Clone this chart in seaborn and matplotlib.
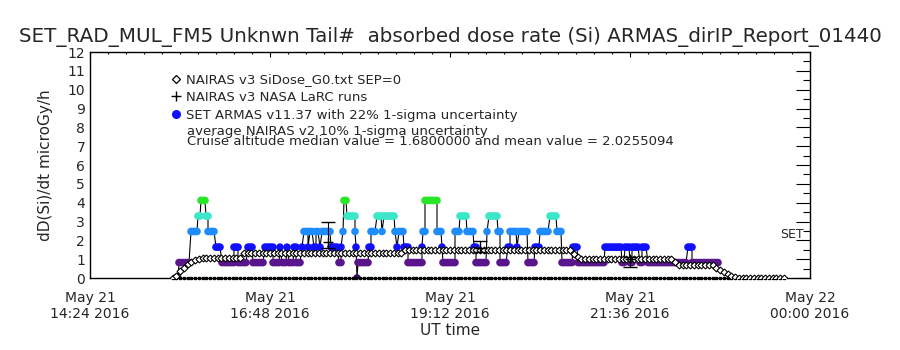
import numpy as np
import pandas as pd
import matplotlib
matplotlib.use("Agg")
import matplotlib.pyplot as plt
import seaborn as sns
from matplotlib.lines import Line2D
from matplotlib.ticker import MultipleLocator

# x axis is minutes after 2016-05-21 14:24 UT
tick_min = [0, 144, 288, 432, 576]
tick_labels = ["May 21\n14:24 2016", "May 21\n16:48 2016", "May 21\n19:12 2016",
               "May 21\n21:36 2016", "May 22\n00:00 2016"]

# NAIRAS v3 SiDose_G0 SEP=0, one value every 3 min from 66 min
nairas_t0 = 66
nairas_step = 3
nairas_dose = ([0.0, 0.12, 0.35, 0.55, 0.72, 0.85, 0.95, 1.0]
               + [1.06] * 11 + [1.33] * 43 + [1.5] * 45 + [1.3, 1.1]
               + [1.0] * 25 + [0.85] + [0.69] * 10
               + [0.55, 0.42, 0.3, 0.2, 0.1, 0.05] + [0.0] * 13)
floor_dose = [0.0] * len(nairas_dose)

# NAIRAS v3 NASA LaRC runs
larc_min = [190.4, 312, 432]
larc_dose = [1.9, 1.6, 1.0]
larc_err_lo = [0.3, 0.2, 0.4]
larc_err_hi = [1.1, 0.38, 0.1]

# SET ARMAS v11.37: runs of quantised dose levels
armas_level = {"Z": 0.0, "P": 0.82, "B": 1.64, "L": 2.47, "C": 3.29, "G": 4.12}
armas_run_start = [68.8, 71.2, 80.8, 86.4, 88.8, 92.8, 94.4, 100.8, 105.6, 115.2,
                   118.4, 126.4, 130.4, 140, 146.4, 152, 153.6, 157.6, 159.2, 163.2,
                   164.8, 169.6, 171.2, 174.4, 176, 179.2, 180.8, 184, 185.6, 192.8,
                   199.2, 200.8, 202.4, 203.2, 205.6, 212, 212.8, 213.6, 214.4, 223.2,
                   224.8, 229.6, 233.6, 235.2, 244, 245.6, 247.2, 251.2, 254.4, 265.6,
                   266.4, 268, 277.6, 281.6, 282.4, 292, 296, 301.6, 307.2, 308.8,
                   317.6, 319.2, 326.4, 328, 334.4, 336, 341.6, 343.2, 350.4, 356,
                   360, 368, 373.6, 377.6, 386.4, 390.4, 412, 425.6, 428, 432,
                   433.6, 440, 441.6, 446.4, 478.4, 481.6]
armas_run_end = 504
armas_run_code = ("ZPLCGCLBPB" "PBPBPBPBPB" "PBLBLBLBLB" "PBLGCLBZPB" "LCLCLBLBPB"
                  "LGLBPLCLBP" "LCLPBLBLPB" "LCLPBPBPBP" "BPBPBP")

palette = {"Z": "#3c0a64", "P": "#5a148c", "B": "#1010ff", "L": "#1e8cff",
           "C": "#3ce6c8", "G": "#28e628"}

rows = []
ends = armas_run_start[1:] + [armas_run_end]
for start, end, code in zip(armas_run_start, ends, armas_run_code):
    for t in np.arange(start, end, 1.6):
        rows.append((t, armas_level[code], code))
armas = pd.DataFrame(rows, columns=["t", "dose", "code"])

nairas_t = nairas_t0 + nairas_step * np.arange(len(nairas_dose))

sns.set_style("white")
plt.rcParams["font.family"] = ["DejaVu Sans"]

fig = plt.figure(figsize=(9, 3.5), dpi=100)
ax = fig.add_axes([0.1, 0.2057, 0.8, 0.6457])

ax.plot(armas["t"], armas["dose"], color="black", lw=0.8, zorder=2)
sns.scatterplot(data=armas, x="t", y="dose", hue="code", palette=palette,
                s=30, edgecolor="none", legend=False, ax=ax, zorder=3)

ax.plot(nairas_t, floor_dose, ls="none", marker="s", ms=1.8, color="black",
        clip_on=False, zorder=4)
ax.plot(nairas_t, nairas_dose, color="black", lw=1, marker="D", ms=3.5,
        mfc="white", mec="black", mew=0.8, zorder=5)

ax.errorbar(larc_min, larc_dose, yerr=[larc_err_lo, larc_err_hi], fmt="+",
            color="black", ms=7, elinewidth=0.8, capsize=5, zorder=6)

ax.set_xlim(0, 576)
ax.set_ylim(0, 12)
ax.set_xticks(tick_min)
ax.set_xticklabels(tick_labels, fontsize=10)
ax.xaxis.set_minor_locator(MultipleLocator(14.4))
ax.yaxis.set_major_locator(MultipleLocator(1))
ax.yaxis.set_minor_locator(MultipleLocator(0.5))
ax.tick_params(labelsize=10)
ax.tick_params(which="both", direction="in", top=True, right=True, color="black")
ax.tick_params(axis="y", which="major", length=10, width=0.8)
ax.tick_params(axis="y", which="minor", length=5, width=0.8)
ax.tick_params(axis="x", which="major", length=3.3, width=0.8, pad=9)
ax.tick_params(axis="x", which="minor", length=1.7, width=0.8)
for sp in ax.spines.values():
    sp.set_color("black")
    sp.set_linewidth(1)

ax.set_ylabel("dD(Si)/dt microGy/h", fontsize=11)
ax.yaxis.set_label_coords(-0.052, 0.5)
ax.set_xlabel("UT time", fontsize=11)
ax.xaxis.set_label_coords(0.5, -0.2)
ax.set_title("SET_RAD_MUL_FM5 Unknwn Tail#  absorbed dose rate (Si) ARMAS_dirIP_Report_01440",
             fontsize=14.3, pad=7)

handles = [
    Line2D([], [], ls="none", marker="D", ms=4, mfc="white", mec="black", mew=0.9),
    Line2D([], [], ls="none", marker="+", ms=7, color="black"),
    Line2D([], [], ls="none", marker="o", ms=5.5, color="#1010ff"),
]
labels = ["NAIRAS v3 SiDose_G0.txt SEP=0", "NAIRAS v3 NASA LaRC runs",
          "SET ARMAS v11.37 with 22% 1-sigma uncertainty"]
ax.legend(handles, labels, loc="upper left", bbox_to_anchor=(0.112, 0.905),
          frameon=False, fontsize=9.5, handlelength=0.8, handletextpad=0.4,
          labelspacing=0.35, borderpad=0, borderaxespad=0)
ax.text(0.135, 0.65, "average NAIRAS v2 10% 1-sigma uncertainty",
        transform=ax.transAxes, fontsize=9.5, va="center")
ax.text(0.135, 0.606, "Cruise altitude median value = 1.6800000 and mean value = 2.0255094",
        transform=ax.transAxes, fontsize=9.5, va="center")
ax.text(552, 2.3, "SET", fontsize=9, va="center")

fig.savefig("out.png", dpi=100)
